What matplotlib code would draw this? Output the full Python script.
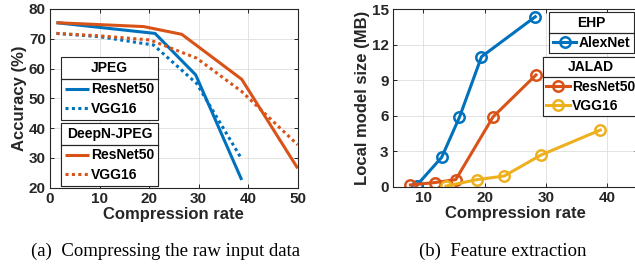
import matplotlib
matplotlib.use("Agg")
import matplotlib.pyplot as plt
from matplotlib.lines import Line2D

# ---------------- data ----------------
# (a) accuracy vs compression rate
jpeg_resnet_x = [1.3, 21.2, 29.4, 38.7]
jpeg_resnet_y = [75.4, 71.8, 57.9, 22.6]
jpeg_vgg_x = [1.3, 10.0, 20.9, 29.6, 38.7]
jpeg_vgg_y = [71.8, 70.7, 67.9, 55.0, 29.6]
deepn_resnet_x = [1.3, 18.9, 26.6, 38.7, 50.0]
deepn_resnet_y = [75.4, 74.1, 71.5, 56.4, 26.5]
deepn_vgg_x = [1.3, 10.0, 20.2, 29.6, 38.7, 50.0]
deepn_vgg_y = [71.8, 71.0, 69.6, 63.5, 52.3, 34.4]

# (b) local model size vs compression rate
ehp_alex_x = [8.9, 13.0, 15.9, 19.5, 28.3]
ehp_alex_y = [0.1, 2.48, 5.86, 10.97, 14.35]
jalad_resnet_x = [7.9, 11.9, 15.3, 21.4, 28.4]
jalad_resnet_y = [0.15, 0.35, 0.6, 5.9, 9.43]
jalad_vgg_x = [13.7, 18.8, 23.2, 29.2, 38.9]
jalad_vgg_y = [0.05, 0.6, 0.9, 2.67, 4.78]

a_xticks = [0, 10, 20, 30, 40, 50]
a_yticks = [20, 30, 40, 50, 60, 70, 80]
b_xticks = [10, 20, 30, 40]
b_yticks = [0, 3, 6, 9, 12, 15]

caption_a = "(a)  Compressing the raw input data"
caption_b = "(b)  Feature extraction"

# ---------------- style ----------------
BLUE = "#0072BD"
ORANGE = "#D95319"
YELLOW = "#EDB120"
AX = "#262626"

plt.rcParams["font.family"] = ["Liberation Sans", "DejaVu Sans"]
plt.rcParams["font.weight"] = "bold"

W, H = 635, 273
fig = plt.figure(figsize=(W / 100, H / 100), dpi=100)


def px_axes(x0, y0, x1, y1):
    return fig.add_axes([x0 / W, 1 - y1 / H, (x1 - x0) / W, (y1 - y0) / H])


def style_axes(ax):
    for s in ax.spines.values():
        s.set_color(AX)
        s.set_linewidth(0.8)
    ax.tick_params(direction="in", length=3, width=0.7, colors=AX,
                   labelsize=11, top=True, right=True, pad=3)
    for lab in ax.get_xticklabels() + ax.get_yticklabels():
        lab.set_fontweight("bold")
        lab.set_color(AX)
    ax.grid(True, color="#dedede", linewidth=0.6)
    ax.set_axisbelow(True)


LW = 2.2
DOT = (0, (1, 1.1))

# ---------- (a) ----------
ax1 = px_axes(50, 9, 297.7, 187.7)
l1, = ax1.plot(jpeg_resnet_x, jpeg_resnet_y, color=BLUE, lw=LW, solid_capstyle="butt")
l2, = ax1.plot(jpeg_vgg_x, jpeg_vgg_y, color=BLUE, lw=LW, linestyle=DOT, dash_capstyle="butt")
l3, = ax1.plot(deepn_resnet_x, deepn_resnet_y, color=ORANGE, lw=LW, solid_capstyle="butt")
l4, = ax1.plot(deepn_vgg_x, deepn_vgg_y, color=ORANGE, lw=LW, linestyle=DOT, dash_capstyle="butt")
ax1.set_xlim(0, 50)
ax1.set_ylim(20, 80)
ax1.set_xticks(a_xticks)
ax1.set_yticks(a_yticks)
style_axes(ax1)
ax1.set_xlabel("Compression rate", fontsize=12, fontweight="bold", color=AX, labelpad=1)
ax1.set_ylabel("Accuracy (%)", fontsize=12, fontweight="bold", color=AX, labelpad=1)

# ---------- (b) ----------
ax2 = px_axes(392.7, 9, 637.6, 186.7)
MK = dict(marker="o", markersize=7.5, markerfacecolor="none", markeredgewidth=1.8, lw=LW)
m1, = ax2.plot(ehp_alex_x, ehp_alex_y, color=BLUE, **MK)
m2, = ax2.plot(jalad_resnet_x, jalad_resnet_y, color=ORANGE, **MK)
m3, = ax2.plot(jalad_vgg_x, jalad_vgg_y, color=YELLOW, **MK)
ax2.set_xlim(5, 45)
ax2.set_ylim(0, 15)
ax2.set_xticks(b_xticks)
ax2.set_yticks(b_yticks)
style_axes(ax2)
ax2.set_xlabel("Compression rate", fontsize=12, fontweight="bold", color=AX, labelpad=1)
ax2.set_ylabel("Local model size (MB)", fontsize=12, fontweight="bold", color=AX, labelpad=1)

# ---------- legends ----------
legends = []


def add_legend(ax, handles, labels, title, x0, y0, bpad, tsep, lsp):
    leg = ax.legend(handles, labels, title=title, loc="upper left",
                    bbox_to_anchor=(x0 / W, 1 - y0 / H), bbox_transform=fig.transFigure,
                    borderaxespad=0, fancybox=False, framealpha=1, edgecolor=AX,
                    fontsize=10, title_fontproperties={"weight": "bold", "size": 10},
                    handlelength=1.7, handletextpad=0.15, labelspacing=lsp,
                    borderpad=bpad)
    leg.get_frame().set_linewidth(0.8)
    leg._legend_box.sep = tsep
    for t in leg.get_texts():
        t.set_fontweight("bold")
        t.set_color("black")
    ax.add_artist(leg)
    legends.append(leg)
    return leg


add_legend(ax1, [l1, l2], ["ResNet50", "VGG16"], "JPEG", 61, 56.7, 0.3, 5.4, 0.37)
add_legend(ax1, [l3, l4], ["ResNet50", "VGG16"], "DeepN-JPEG", 61, 122.7, 0.3, 5.4, 0.37)
add_legend(ax2, [m1], ["AlexNet"], "EHP", 549.3, 12.3, 0.25, 4.3, 0.33)
add_legend(ax2, [m2, m3], ["ResNet50", "VGG16"], "JALAD", 542.7, 56.7, 0.25, 4.3, 0.33)

# captions
fig.text(166 / W, 1 - 251 / H, caption_a, ha="center", va="center",
         fontsize=13.5, fontweight="normal", family=["Liberation Serif", "DejaVu Serif"])
fig.text(503 / W, 1 - 251 / H, caption_b, ha="center", va="center",
         fontsize=13.5, fontweight="normal", family=["Liberation Serif", "DejaVu Serif"])

# separator lines under legend titles (MATLAB style)
fig.canvas.draw()
r = fig.canvas.get_renderer()
inv = fig.transFigure.inverted()
for leg in legends:
    fb = leg.get_frame().get_window_extent(r)
    tb = leg._legend_title_box.get_window_extent(r)
    hb = leg._legend_handle_box.get_window_extent(r)
    y = 0.5 * (tb.y0 + hb.y1)
    (fx0, fy), = inv.transform([(fb.x0, y)])
    (fx1, _), = inv.transform([(fb.x1, y)])
    fig.add_artist(Line2D([fx0, fx1], [fy, fy], transform=fig.transFigure,
                          color=AX, lw=0.9, zorder=10))

fig.savefig("out.png", dpi=100)
